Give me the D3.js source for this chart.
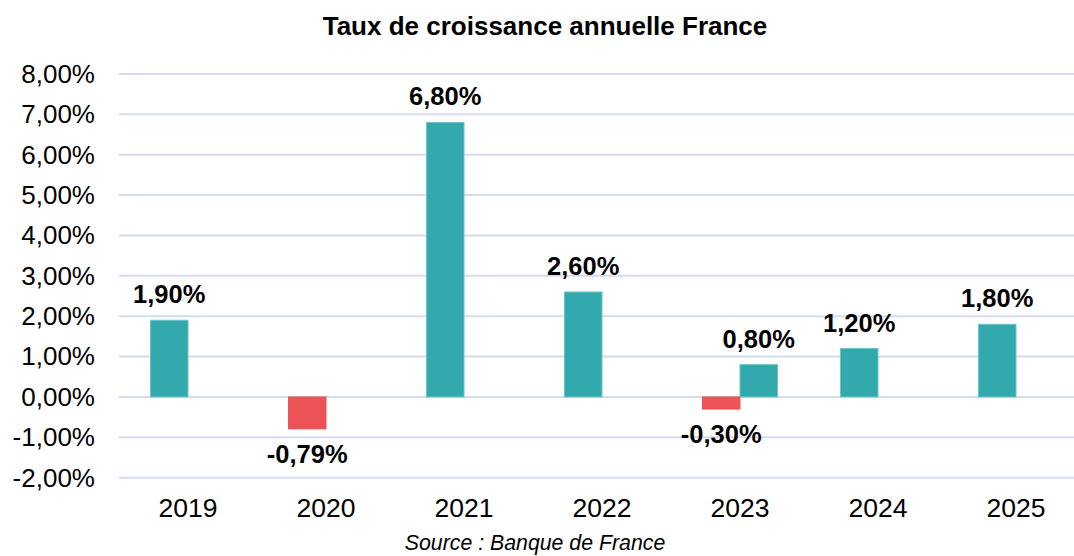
<!DOCTYPE html>
<html>
<head>
<meta charset="utf-8">
<script src="https://cdn.jsdelivr.net/npm/d3@7"></script>
<style>
  body { margin: 0; background: #fff; }
  svg { display: block; font-family: "Liberation Sans", Arial, sans-serif; }
</style>
</head>
<body>
<svg id="chart"></svg>
<script>
// data
var years = ["2019", "2020", "2021", "2022", "2023", "2024", "2025"]
var series = ["s1", "s2"]
var s1Values = [1.90, -0.79, 6.80, 2.60, -0.30, 1.20, 1.80]
var s2Values = [null, null, null, null, 0.80, null, null]
var yTicks = [-2, -1, 0, 1, 2, 3, 4, 5, 6, 7, 8]

var width = 1074
var height = 556
var margin = { top: 74, right: -11, bottom: 78.3, left: 119 }

// french number format, plain hyphen for negatives
var fmt = function (v) { return d3.format(".2f")(v).replace(".", ",").replace("\u2212", "-") + "%" }

let svg = d3.select("#chart")
  .attr("width", width)
  .attr("height", height)

// build rows from arrays
var rows = []
years.forEach(function (y, i) {
  if (s1Values[i] != null) rows.push({ year: y, serie: "s1", value: s1Values[i] })
  if (s2Values[i] != null) rows.push({ year: y, serie: "s2", value: s2Values[i] })
})

var x0 = d3.scaleBand()
  .domain(years)
  .range([margin.left, width - margin.right])

var x1 = d3.scaleBand()
  .domain(series)
  .range([0, x0.bandwidth()])
  .paddingOuter(0.84)

var yscale = d3.scaleLinear()
  .domain([-2, 8])
  .range([height - margin.bottom, margin.top])

// gridlines
svg.append("g")
  .attr("class", "grid")
  .selectAll("line")
  .data(yTicks)
  .join("line")
  .attr("x1", margin.left)
  .attr("x2", width - margin.right)
  .attr("y1", d => yscale(d))
  .attr("y2", d => yscale(d))
  .attr("stroke", "#d4dcf2")
  .attr("stroke-width", 2)

// y axis labels
var y_axis = d3.axisLeft(yscale)
  .tickValues(yTicks)
  .tickFormat(fmt)
  .tickSize(0)
  .tickPadding(24)

svg.append("g")
  .attr("class", "y-axis")
  .attr("transform", "translate(" + margin.left + ",0)")
  .call(y_axis)
  .call(g => g.select(".domain").remove())
  .selectAll("text")
  .attr("font-size", 26)
  .attr("font-family", "Liberation Sans, Arial, sans-serif")
  .attr("fill", "#000")

// x axis labels
svg.append("g")
  .attr("class", "x-axis")
  .selectAll("text")
  .data(years)
  .join("text")
  .attr("x", d => x0(d) + x0.bandwidth() / 2)
  .attr("y", 517)
  .attr("text-anchor", "middle")
  .attr("font-size", 26.5)
  .attr("fill", "#000")
  .text(d => d)

// bars
var bars = svg.append("g").attr("class", "bars")
bars.selectAll("rect")
  .data(rows)
  .join("rect")
  .attr("x", d => x0(d.year) + x1(d.serie))
  .attr("width", x1.bandwidth())
  .attr("y", d => yscale(Math.max(0, d.value)))
  .attr("height", d => Math.abs(yscale(d.value) - yscale(0)))
  .attr("fill", d => d.value < 0 ? "#ec5356" : "#31a9ad")
  .attr("stroke", d => d.value < 0 ? "#ec5356" : "#6cc4c7")
  .attr("stroke-width", 1)

// data labels
svg.append("g")
  .attr("class", "labels")
  .selectAll("text")
  .data(rows)
  .join("text")
  .attr("x", d => x0(d.year) + x1(d.serie) + x1.bandwidth() / 2)
  .attr("y", d => d.value < 0 ? yscale(d.value) + 34 : yscale(d.value) - 17)
  .attr("text-anchor", "middle")
  .attr("font-size", 25.5)
  .attr("font-weight", "bold")
  .attr("fill", "#000")
  .text(d => fmt(d.value))

// title
svg.append("text")
  .attr("x", 545)
  .attr("y", 35)
  .attr("text-anchor", "middle")
  .attr("font-size", 26)
  .attr("font-weight", "bold")
  .attr("fill", "#000")
  .text("Taux de croissance annuelle France")

// source
svg.append("text")
  .attr("x", 535)
  .attr("y", 550)
  .attr("text-anchor", "middle")
  .attr("font-size", 21.3)
  .attr("font-style", "italic")
  .attr("fill", "#000")
  .text("Source : Banque de France")
</script>
</body>
</html>
